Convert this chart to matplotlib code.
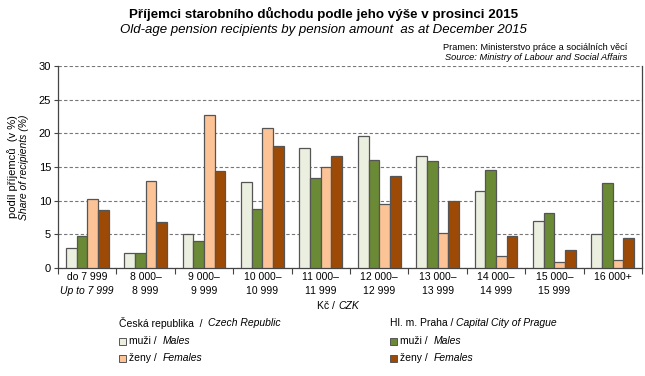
import numpy as np
import matplotlib
matplotlib.use("Agg")
import matplotlib.pyplot as plt
from matplotlib.patches import Rectangle
from matplotlib.transforms import blended_transform_factory

plt.rcParams['font.family'] = ['Liberation Sans', 'DejaVu Sans']

# data (share of recipients in %)
kategorie_cz = ["do 7 999", "8 000–", "9 000–", "10 000–", "11 000–",
                "12 000–", "13 000–", "14 000–", "15 000–", "16 000+"]
kategorie_2 = ["Up to 7 999", "8 999", "9 999", "10 999", "11 999",
               "12 999", "13 999", "14 999", "15 999", ""]
cr_muzi = [3.0, 2.2, 5.0, 12.7, 17.8, 19.6, 16.6, 11.4, 7.0, 5.0]
praha_muzi = [4.75, 2.2, 3.95, 8.75, 13.35, 16.0, 15.9, 14.5, 8.15, 12.6]
cr_zeny = [10.2, 12.9, 22.7, 20.8, 15.0, 9.5, 5.2, 1.8, 0.9, 1.2]
praha_zeny = [8.6, 6.8, 14.4, 18.1, 16.6, 13.6, 10.0, 4.8, 2.7, 4.45]

c_cr_m = '#ebefdf'
c_pr_m = '#6b8a35'
c_cr_z = '#fcc396'
c_pr_z = '#9c4a05'
edge = '#555555'

fig = plt.figure(figsize=(6.45, 3.76), dpi=100)
ax = fig.add_axes([58 / 645, 1 - 268 / 376, 584 / 645, 202 / 376])

x = np.arange(len(kategorie_cz))
w = 0.183
serie = [(cr_muzi, c_cr_m), (praha_muzi, c_pr_m), (cr_zeny, c_cr_z), (praha_zeny, c_pr_z)]
for k, (vals, col) in enumerate(serie):
    ax.bar(x + (k - 1.5) * w, vals, w, color=col, edgecolor=edge, linewidth=0.9, zorder=3)

ax.set_xlim(-0.5, 9.5)
ax.set_ylim(0, 30)
ax.set_yticks(range(0, 31, 5))
ax.yaxis.grid(True, linestyle=(0, (3, 2)), color='#777777', linewidth=0.8, zorder=0)
ax.tick_params(axis='y', labelsize=8, length=3, color='#444444', pad=2)
ax.spines['top'].set_visible(False)
for s in ['left', 'bottom', 'right']:
    ax.spines[s].set_color('#444444')
    ax.spines[s].set_linewidth(0.9)

# ticks between groups
ax.set_xticks(np.arange(-0.5, 10, 1))
ax.set_xticklabels([])
ax.tick_params(axis='x', length=4, color='#444444')

tr = blended_transform_factory(ax.transData, fig.transFigure)
for i in range(len(kategorie_cz)):
    ax.text(i, 1 - 277 / 376, kategorie_cz[i], transform=tr, ha='center', va='center', fontsize=7.5)
    ax.text(i, 1 - 291 / 376, kategorie_2[i], transform=tr, ha='center', va='center', fontsize=7.5,
            style='italic' if i == 0 else 'normal')

fig.text(338 / 645, 1 - 306 / 376, "Kč / ", ha='right', va='center', fontsize=7.5)
fig.text(338 / 645, 1 - 306 / 376, "CZK", ha='left', va='center', fontsize=7.5, style='italic')

# y label
fig.text(13 / 645, 1 - 167 / 376, "podíl příjemců  (v %)", rotation=90, ha='center', va='center', fontsize=8)
fig.text(24 / 645, 1 - 167 / 376, "Share of recipients (%)", rotation=90, ha='center', va='center',
         fontsize=7.5, style='italic')

# titles
fig.text(324 / 645, 1 - 14 / 376, "Příjemci starobního důchodu podle jeho výše v prosinci 2015",
         ha='center', va='center', fontsize=9.6, fontweight='bold')
fig.text(323 / 645, 1 - 30 / 376, "Old-age pension recipients by pension amount  as at December 2015",
         ha='center', va='center', fontsize=9.5, style='italic')
fig.text(627 / 645, 1 - 47 / 376, "Pramen: Ministerstvo práce a sociálních věcí",
         ha='right', va='center', fontsize=6.7)
fig.text(627 / 645, 1 - 57 / 376, "Source: Ministry of Labour and Social Affairs",
         ha='right', va='center', fontsize=6.7, style='italic')

# legend
def leg_text(xp, yp, a, b):
    t = fig.text(xp / 645, 1 - yp / 376, a, ha='left', va='center', fontsize=7.5)
    fig.canvas.draw()
    bb = t.get_window_extent()
    fig.text(bb.x1 / 645, 1 - yp / 376, b, ha='left', va='center', fontsize=7.5, style='italic')

leg_text(119, 323, "Česká republika  /  ", "Czech Republic")
leg_text(390, 323, "Hl. m. Praha / ", "Capital City of Prague")
for xp, rows in [(119, [(c_cr_m, "muži /  ", "Males"), (c_cr_z, "ženy /  ", "Females")]),
                 (390, [(c_pr_m, "muži /  ", "Males"), (c_pr_z, "ženy /  ", "Females")])]:
    for j, (col, a, b) in enumerate(rows):
        yp = 341 + j * 17
        fig.patches.append(Rectangle((xp / 645, 1 - (yp + 3.5) / 376), 7 / 645, 7 / 376,
                                     transform=fig.transFigure, facecolor=col,
                                     edgecolor=edge, linewidth=0.7))
        leg_text(xp + 10, yp, a, b)

fig.savefig("out.png", dpi=100)
